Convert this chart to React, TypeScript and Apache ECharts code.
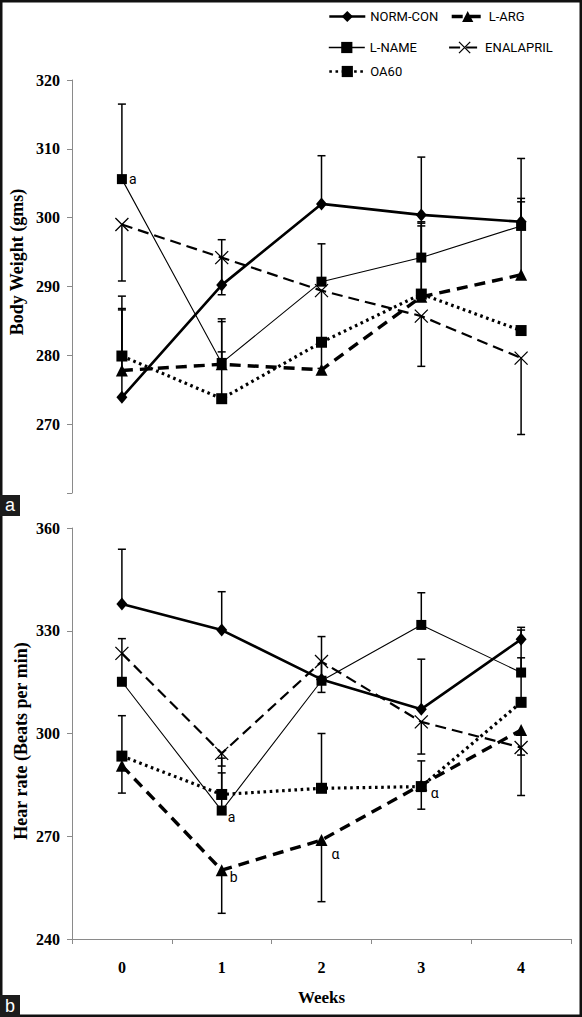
import React, { useEffect, useRef } from 'react';
import * as echarts from 'echarts';

// ---------- data ----------
const weeks = ['0', '1', '2', '3', '4'];
const seriesNames = ['NORM-CON', 'L-ARG', 'L-NAME', 'ENALAPRIL', 'OA60'];

// Panel a: Body Weight (gms)
const bwNormCon = [273.9, 290.2, 302.0, 300.4, 299.4];
const bwLArg = [277.8, 278.7, 277.9, 288.5, 291.7];
const bwLName = [305.6, 278.9, 290.7, 294.2, 298.8];
const bwEnalapril = [299.0, 294.2, 289.4, 285.7, 279.6];
const bwOA60 = [279.9, 273.7, 281.9, 288.9, 283.6];

const bwNormConErrUp = [12.7, 6.6, 7.0, 8.4, 9.2];
const bwLArgErrUp = [9.0, 6.2, 0, 10.3, 11.1];
const bwLNameErrUp = [10.9, 6.4, 5.5, 5.0, 3.5];
const bwEnalaprilErrDown = [8.2, 5.4, 11.3, 7.3, 11.1];
const bwOA60ErrUp = [8.7, 6.8, 0, 10.5, 0];

const bwLNameNotes = ['a', '', '', '', ''];

const bwTickLabels = [270, 280, 290, 300, 310, 320];
const bwMin = 260;
const bwMax = 320;
const bwStep = 10;

// Panel b: Heart rate (Beats per min)
const hrNormCon = [337.8, 330.2, 315.8, 307.1, 327.5];
const hrLArg = [290.6, 260.1, 268.9, 285.0, 301.0];
const hrLName = [315.1, 277.5, 315.4, 331.7, 317.8];
const hrEnalapril = [323.4, 294.2, 321.0, 303.4, 295.9];
const hrOA60 = [293.4, 282.2, 284.0, 284.5, 309.1];

const hrNormConErrUp = [16.0, 11.2, 12.5, 14.6, 3.5];
const hrLArgErrDown = [8.0, 12.6, 18.0, 7.1, 7.3];
const hrLNameErrUp = [12.6, 11.0, 0, 9.4, 12.4];
const hrEnalaprilErrDown = [0, 3.7, 9.0, 9.4, 14.0];
const hrOA60ErrUp = [11.8, 10.6, 16.0, 7.5, 13.0];

const hrLNameNotes = ['', 'a', '', '', ''];
const hrLArgNotes = ['', 'b', 'α', '', ''];
const hrOA60Notes = ['', '', '', 'α', ''];

const hrTickLabels = [240, 270, 300, 330, 360];
const hrMin = 240;
const hrMax = 360;
const hrStep = 30;

const zeros = [0, 0, 0, 0, 0];

// ---------- styles ----------
const X_PATH = 'path://M0,0L10,10M10,0L0,10';
const styles: Record<string, any> = {
  'NORM-CON': { symbol: 'diamond', symbolSize: [11, 13], width: 2.6, type: 'solid', legendWidth: 2.6 },
  'L-ARG': { symbol: 'triangle', symbolSize: 12, width: 3.4, type: [11, 7], legendWidth: 3.4 },
  'L-NAME': { symbol: 'rect', symbolSize: 10, width: 1.1, type: 'solid', legendWidth: 1.6 },
  'ENALAPRIL': { symbol: X_PATH, symbolSize: 13, width: 2.2, type: [11, 6], legendWidth: 2.2 },
  'OA60': { symbol: 'rect', symbolSize: 11, width: 3.2, type: [2.6, 3.6], legendWidth: 2.6 },
};

const SERIF = '"Liberation Serif", "Times New Roman", serif';
const SANS = 'Roboto, "Liberation Sans", Arial, sans-serif';
const AXIS_COLOR = '#8a8a8a';

function errorBarRenderItem(params: any, api: any) {
  const i = api.value(0);
  const v = api.value(1);
  const up = api.value(2);
  const dn = api.value(3);
  const top = api.coord([i, v + up]);
  const bot = api.coord([i, v - dn]);
  const cap = 4;
  const st = { stroke: '#000', lineWidth: 1.5 };
  const children: any[] = [
    { type: 'line', shape: { x1: top[0], y1: top[1], x2: bot[0], y2: bot[1] }, style: st },
  ];
  if (up > 0) children.push({ type: 'line', shape: { x1: top[0] - cap, y1: top[1], x2: top[0] + cap, y2: top[1] }, style: st });
  if (dn > 0) children.push({ type: 'line', shape: { x1: bot[0] - cap, y1: bot[1], x2: bot[0] + cap, y2: bot[1] }, style: st });
  return { type: 'group', children };
}

function noteOffset(note: string, grid: number, week: number): [number, number] {
  if (grid === 0) return [0, 0];
  if (note === 'α' && week === 2) return [2, 14];
  if (note === 'α') return [2, 6];
  if (note === 'b') return [0, 7];
  return [-1, 6];
}

function lineSeries(name: string, values: number[], notes: string[] | null, grid: number) {
  const s = styles[name];
  return {
    type: 'line',
    name,
    xAxisIndex: grid,
    yAxisIndex: grid,
    z: 3,
    symbol: s.symbol,
    symbolSize: s.symbolSize,
    showAllSymbol: true,
    lineStyle: { color: '#000', width: s.width, type: s.type },
    itemStyle: { color: '#000', borderColor: '#000', borderWidth: name === 'ENALAPRIL' ? 1.3 : 0 },
    emphasis: { disabled: true },
    data: values.map((v, i) =>
      notes && notes[i]
        ? {
            value: v,
            label: {
              show: true,
              formatter: notes[i],
              position: 'right',
              distance: 2,
              offset: noteOffset(notes[i], grid, i),
              color: '#000',
              fontSize: 14,
              fontFamily: SANS,
            },
          }
        : v
    ),
  };
}

function errorData(values: number[], ups: number[], downs: number[]) {
  const out: number[][] = [];
  values.forEach((v, i) => {
    if (ups[i] > 0 || downs[i] > 0) out.push([i, v, ups[i], downs[i]]);
  });
  return out;
}

function errorSeries(grid: number, rows: number[][]) {
  return {
    type: 'custom',
    xAxisIndex: grid,
    yAxisIndex: grid,
    z: 2,
    silent: true,
    renderItem: errorBarRenderItem,
    encode: { x: 0, y: 1 },
    data: rows,
  };
}

function buildOption() {
  const bwErr = [
    ...errorData(bwNormCon, bwNormConErrUp, zeros),
    ...errorData(bwLArg, bwLArgErrUp, zeros),
    ...errorData(bwLName, bwLNameErrUp, zeros),
    ...errorData(bwEnalapril, zeros, bwEnalaprilErrDown),
    ...errorData(bwOA60, bwOA60ErrUp, zeros),
  ];
  const hrErr = [
    ...errorData(hrNormCon, hrNormConErrUp, zeros),
    ...errorData(hrLArg, zeros, hrLArgErrDown),
    ...errorData(hrLName, hrLNameErrUp, zeros),
    ...errorData(hrEnalapril, zeros, hrEnalaprilErrDown),
    ...errorData(hrOA60, hrOA60ErrUp, zeros),
  ];

  const legendPos: Record<string, any> = {
    'NORM-CON': { left: 328, top: 10, itemWidth: 36 },
    'L-ARG': { left: 450, top: 10, itemWidth: 32 },
    'L-NAME': { left: 328, top: 41, itemWidth: 36 },
    'ENALAPRIL': { left: 448, top: 41, itemWidth: 31 },
    'OA60': { left: 328, top: 65, itemWidth: 36 },
  };

  const yAxisCommon = (ticks: number[], min: number, max: number, step: number) => ({
    type: 'value',
    min,
    max,
    interval: step,
    axisLine: { show: true, lineStyle: { color: AXIS_COLOR, width: 1 } },
    axisTick: { show: true, length: 5, lineStyle: { color: AXIS_COLOR } },
    splitLine: { show: false },
    axisLabel: {
      margin: 12,
      color: '#000',
      fontFamily: SERIF,
      fontWeight: 'bold',
      fontSize: 16,
      formatter: (v: number) => (ticks.includes(v) ? String(v) : ''),
    },
  });

  return {
    animation: false,
    backgroundColor: '#fff',
    legend: seriesNames.map((n) => ({
      data: [n],
      left: legendPos[n].left,
      top: legendPos[n].top,
      itemWidth: legendPos[n].itemWidth,
      itemHeight: 14,
      padding: 0,
      selectedMode: false,
      textStyle: { color: '#000', fontSize: 13, fontFamily: SANS },
      itemStyle: { borderColor: '#000', borderWidth: n === 'ENALAPRIL' ? 1.3 : 0 },
      lineStyle: { width: styles[n].legendWidth },
    })),
    grid: [
      { left: 72, right: 11, top: 80, height: 413 },
      { left: 72, right: 11, top: 528, height: 411 },
    ],
    xAxis: [
      {
        gridIndex: 0,
        type: 'category',
        data: weeks,
        axisLine: { show: false },
        axisTick: { show: false },
        axisLabel: { show: false },
        splitLine: { show: false },
      },
      {
        gridIndex: 1,
        type: 'category',
        data: weeks,
        axisLine: { show: true, lineStyle: { color: AXIS_COLOR, width: 1 } },
        axisTick: { show: true, length: 5, alignWithLabel: false, lineStyle: { color: AXIS_COLOR } },
        axisLabel: { margin: 20, color: '#000', fontFamily: SERIF, fontWeight: 'bold', fontSize: 16 },
        splitLine: { show: false },
        name: 'Weeks',
        nameLocation: 'middle',
        nameGap: 50,
        nameTextStyle: { color: '#000', fontFamily: SERIF, fontWeight: 'bold', fontSize: 17 },
      },
    ],
    yAxis: [
      { gridIndex: 0, ...yAxisCommon(bwTickLabels, bwMin, bwMax, bwStep) },
      { gridIndex: 1, ...yAxisCommon(hrTickLabels, hrMin, hrMax, hrStep) },
    ],
    graphic: [
      {
        type: 'rect',
        shape: { x: 1.25, y: 1.25, width: 579.5, height: 1014.5 },
        style: { fill: 'none', stroke: '#111', lineWidth: 2.5 },
        z: 100,
      },
      {
        type: 'text',
        x: 17,
        y: 262,
        rotation: Math.PI / 2,
        style: {
          text: 'Body Weight (gms)',
          fill: '#000',
          font: 'bold 18px ' + SERIF,
          textAlign: 'center',
          textVerticalAlign: 'middle',
        },
      },
      {
        type: 'text',
        x: 21,
        y: 741,
        rotation: Math.PI / 2,
        style: {
          text: 'Hear rate (Beats per min)',
          fill: '#000',
          font: 'bold 18px ' + SERIF,
          textAlign: 'center',
          textVerticalAlign: 'middle',
        },
      },
      { type: 'rect', shape: { x: 0, y: 495, width: 20, height: 21 }, style: { fill: '#1c1c1c' }, z: 101 },
      {
        type: 'text',
        x: 10,
        y: 505,
        z: 102,
        style: { text: 'a', fill: '#fff', font: '18px "Liberation Sans", Arial, sans-serif', textAlign: 'center', textVerticalAlign: 'middle' },
      },
      { type: 'rect', shape: { x: 0, y: 995, width: 20, height: 22 }, style: { fill: '#1c1c1c' }, z: 101 },
      {
        type: 'text',
        x: 10,
        y: 1006,
        z: 102,
        style: { text: 'b', fill: '#fff', font: '18px "Liberation Sans", Arial, sans-serif', textAlign: 'center', textVerticalAlign: 'middle' },
      },
    ],
    series: [
      errorSeries(0, bwErr),
      lineSeries('NORM-CON', bwNormCon, null, 0),
      lineSeries('L-ARG', bwLArg, null, 0),
      lineSeries('L-NAME', bwLName, bwLNameNotes, 0),
      lineSeries('ENALAPRIL', bwEnalapril, null, 0),
      lineSeries('OA60', bwOA60, null, 0),
      errorSeries(1, hrErr),
      lineSeries('NORM-CON', hrNormCon, null, 1),
      lineSeries('L-ARG', hrLArg, hrLArgNotes, 1),
      lineSeries('L-NAME', hrLName, hrLNameNotes, 1),
      lineSeries('ENALAPRIL', hrEnalapril, null, 1),
      lineSeries('OA60', hrOA60, hrOA60Notes, 1),
    ],
  };
}

export default function App() {
  const ref = useRef<HTMLDivElement>(null);
  useEffect(() => {
    if (!ref.current) return;
    const chart = echarts.init(ref.current, undefined, { renderer: 'svg' });
    chart.setOption(buildOption() as any);
    return () => chart.dispose();
  }, []);
  return (
    <div
      ref={ref}
      style={{ position: 'fixed', left: 0, top: 0, width: 582, height: 1017, background: '#fff' }}
    />
  );
}
